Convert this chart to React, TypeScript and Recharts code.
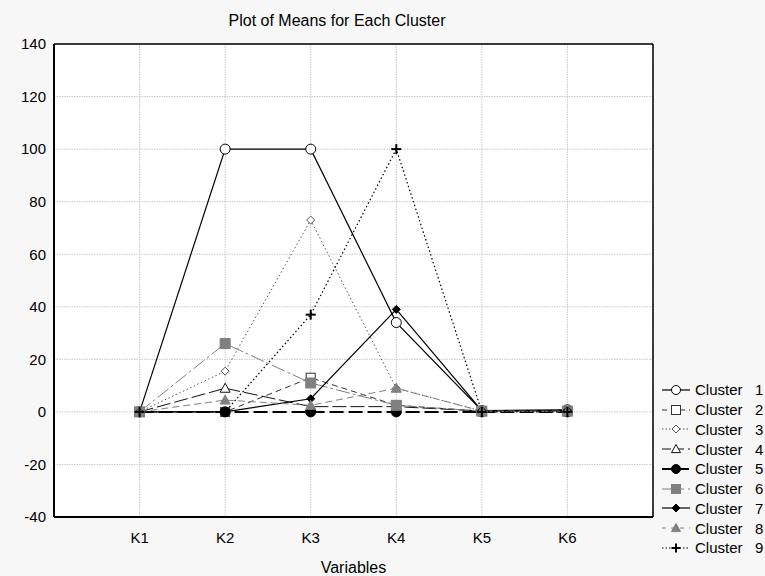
import { LineChart, Line, XAxis, YAxis, CartesianGrid } from 'recharts'

// valeurs (K1..K6)
const variables = ['K1', 'K2', 'K3', 'K4', 'K5', 'K6']
const cluster1 = [0, 100, 100, 34, 0.5, 0.8]
const cluster2 = [0, 0, 13, 2.5, 0.3, 0.3]
const cluster3 = [0, 15.5, 73, 9, 0.3, 0.3]
const cluster4 = [0, 9, 2, 2, 0.3, 0.3]
const cluster5 = [0, 0, 0, 0, 0, 0]
const cluster6 = [0, 26, 11, 2.5, 0.3, 0.3]
const cluster7 = [0, 0, 5, 39, 0.5, 0.6]
const cluster8 = [0, 4.5, 2.5, 9, 0.3, 0.3]
const cluster9 = [0, 0, 37, 100, 0, 0]

const yTicks = [-40, -20, 0, 20, 40, 60, 80, 100, 120, 140]
const xTicks = [1, 2, 3, 4, 5, 6]

const xMinor = Array.from({ length: 29 }, (_, i) => i * 0.25)
const yMinor = Array.from({ length: 46 }, (_, i) => -40 + i * 4)

type Kind = 'circle' | 'square' | 'diamond' | 'triangle' | 'plus'

interface Style {
  key: string
  name: string
  values: number[]
  color: string
  dash?: string
  legendDash?: string
  width: number
  kind: Kind
  filled: boolean
  size: number
}

const series: Style[] = [
  { key: 'c1', name: 'Cluster   1', values: cluster1, color: '#000', width: 1.2, kind: 'circle', filled: false, size: 5 },
  { key: 'c2', name: 'Cluster   2', values: cluster2, color: '#333', dash: '6 4', legendDash: '5 4', width: 1, kind: 'square', filled: false, size: 4.5 },
  { key: 'c3', name: 'Cluster   3', values: cluster3, color: '#555', dash: '1.5 2.5', legendDash: '1.5 2', width: 1, kind: 'diamond', filled: false, size: 4 },
  { key: 'c4', name: 'Cluster   4', values: cluster4, color: '#111', dash: '14 4', legendDash: '9 4', width: 1, kind: 'triangle', filled: false, size: 5 },
  { key: 'c5', name: 'Cluster   5', values: cluster5, color: '#000', dash: '14 5', legendDash: '11 5', width: 2, kind: 'circle', filled: true, size: 5 },
  { key: 'c6', name: 'Cluster   6', values: cluster6, color: '#808080', dash: '14 3 3 3', legendDash: '9 4', width: 1, kind: 'square', filled: true, size: 5 },
  { key: 'c7', name: 'Cluster   7', values: cluster7, color: '#000', width: 1.2, kind: 'diamond', filled: true, size: 4 },
  { key: 'c8', name: 'Cluster   8', values: cluster8, color: '#808080', dash: '7 4', legendDash: '4 5', width: 1, kind: 'triangle', filled: true, size: 5 },
  { key: 'c9', name: 'Cluster   9', values: cluster9, color: '#000', dash: '1.5 2.5', legendDash: '1.5 2', width: 1.2, kind: 'plus', filled: false, size: 5 },
]

const data = variables.map((_, i) => {
  const row: Record<string, number> = { x: i + 1 }
  series.forEach(s => { row[s.key] = s.values[i] })
  return row
})

function Marker({ cx, cy, s }: { cx: number; cy: number; s: Style }) {
  const fill = s.filled ? s.color : '#fff'
  const r = s.size
  switch (s.kind) {
    case 'circle':
      return <circle cx={cx} cy={cy} r={r} fill={fill} stroke={s.color} strokeWidth={1} />
    case 'square':
      return <rect x={cx - r} y={cy - r} width={2 * r} height={2 * r} fill={fill} stroke={s.color} strokeWidth={1} />
    case 'diamond':
      return <polygon points={`${cx},${cy - r} ${cx + r},${cy} ${cx},${cy + r} ${cx - r},${cy}`} fill={fill} stroke={s.color} strokeWidth={1} />
    case 'triangle':
      return <polygon points={`${cx},${cy - r} ${cx + r},${cy + r * 0.8} ${cx - r},${cy + r * 0.8}`} fill={fill} stroke={s.color} strokeWidth={1} />
    default:
      return (
        <g stroke={s.color} strokeWidth={2}>
          <line x1={cx - r} y1={cy} x2={cx + r} y2={cy} />
          <line x1={cx} y1={cy - r} x2={cx} y2={cy + r} />
        </g>
      )
  }
}

const font = '"Liberation Sans", Arial, sans-serif'

export default function App() {
  return (
    <div style={{ position: 'absolute', left: 0, top: 0, width: 765, height: 576, background: '#f7f7f7', fontFamily: font, overflow: 'hidden' }}>
      <div style={{ position: 'absolute', left: 0, width: 674, top: 12, textAlign: 'center', fontSize: 16, color: '#000' }}>
        Plot of Means for Each Cluster
      </div>
      <LineChart width={765} height={576} data={data} margin={{ top: 44, right: 112, bottom: 0, left: 0 }} style={{ position: 'absolute', left: 0, top: 0 }}>
        <CartesianGrid fill="#fff" stroke="#c8c8c8" strokeDasharray="1.5 1" />
        <XAxis
          dataKey="x" type="number" domain={[0, 7]} ticks={xTicks} allowDataOverflow
          tickFormatter={(v: number) => variables[v - 1] ?? ''}
          tickLine={false} axisLine={{ stroke: '#000', strokeWidth: 2 }}
          tick={{ fill: '#000', fontSize: 15, fontFamily: font }} tickMargin={9}
          height={59}
          label={{ value: 'Variables', position: 'insideBottom', offset: 3, fill: '#000', fontSize: 16, fontFamily: font }}
        />
        <XAxis xAxisId="bm" type="number" domain={[0, 7]} ticks={xMinor} allowDataOverflow mirror
          tick={false} tickSize={4} tickLine={{ stroke: '#000' }} axisLine={false} />
        <XAxis xAxisId="tm" orientation="top" type="number" domain={[0, 7]} ticks={xMinor} allowDataOverflow mirror
          tick={false} tickSize={4} tickLine={{ stroke: '#000' }} axisLine={{ stroke: '#000', strokeWidth: 1.5 }} />
        <YAxis
          type="number" domain={[-40, 140]} ticks={yTicks} allowDataOverflow
          tickLine={false} axisLine={{ stroke: '#000', strokeWidth: 2 }}
          tick={{ fill: '#000', fontSize: 15, fontFamily: font }} tickMargin={2}
          width={54}
        />
        <YAxis yAxisId="lm" type="number" domain={[-40, 140]} ticks={yMinor} allowDataOverflow mirror
          tick={false} tickSize={3} tickLine={{ stroke: '#000' }} axisLine={false} />
        <YAxis yAxisId="rm" orientation="right" type="number" domain={[-40, 140]} ticks={yMinor} allowDataOverflow mirror
          tick={false} tickSize={3} tickLine={{ stroke: '#000' }} axisLine={{ stroke: '#000', strokeWidth: 1.5 }} />
        {series.map(s => (
          <Line
            key={s.key}
            dataKey={s.key}
            name={s.name}
            type="linear"
            stroke={s.color}
            strokeWidth={s.width}
            strokeDasharray={s.dash}
            isAnimationActive={false}
            dot={(p: any) => <Marker key={`${s.key}-${p.index}`} cx={p.cx} cy={p.cy} s={s} />}
            activeDot={false}
          />
        ))}
      </LineChart>
      <div style={{ position: 'absolute', left: 661, top: 380, width: 104 }}>
        {series.map(s => (
          <div key={s.key} style={{ display: 'flex', alignItems: 'center', height: 19.75 }}>
            <svg width={30} height={16} style={{ flex: 'none' }}>
              <line x1={1} y1={8} x2={29} y2={8} stroke={s.color} strokeWidth={s.width} strokeDasharray={s.legendDash} />
              <Marker cx={15} cy={8} s={{ ...s, size: Math.min(s.size, 4.5) }} />
            </svg>
            <span style={{ fontSize: 15, whiteSpace: 'pre', marginLeft: 4, color: '#000' }}>{s.name}</span>
          </div>
        ))}
      </div>
    </div>
  )
}
